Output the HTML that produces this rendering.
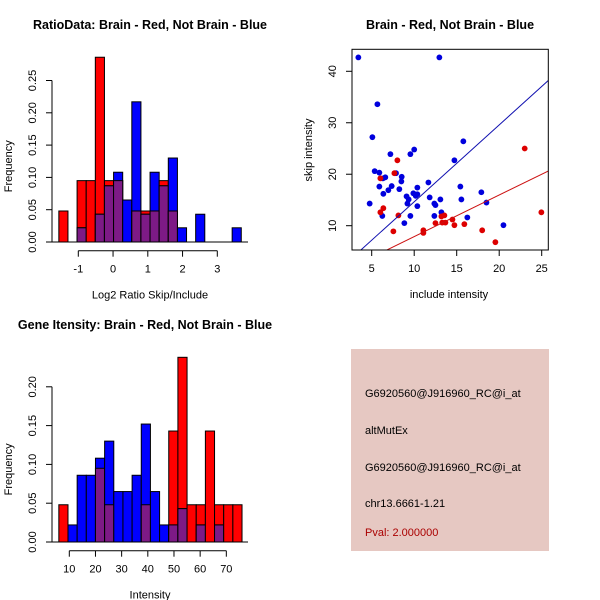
<!DOCTYPE html>
<html><head><meta charset="utf-8"><style>
html,body{margin:0;padding:0;background:#fff;}
svg{display:block;font-family:"Liberation Sans",sans-serif;}
</style></head><body>
<svg id="c" width="600" height="600" viewBox="0 0 600 600" xmlns="http://www.w3.org/2000/svg">
<rect x="351" y="349" width="198" height="202" fill="#e6c8c2"/>
<g font-size="11" fill="#000">
<text x="365" y="397">G6920560@J916960_RC@i_at</text>
<text x="365" y="434">altMutEx</text>
<text x="365" y="471">G6920560@J916960_RC@i_at</text>
<text x="365" y="507">chr13.6661-1.21</text>
<text x="365" y="536" fill="#aa0000">Pval: 2.000000</text>
</g>
</svg>
<script>
// Top-left histogram (Log2 ratio)
const ratioStart = -1.56, ratioWidth = 0.2625;
const ratioRed  = [0.048,0,0.095,0.095,0.286,0.095,0.095,0,0.048,0.048,0.048,0.095,0.048,0,0,0,0,0,0,0];
const ratioBlue = [0,0,0.022,0,0.043,0.087,0.108,0.065,0.217,0.043,0.108,0.087,0.130,0.022,0,0.043,0,0,0,0.022];
const ratioYTicks = ["0.00","0.05","0.10","0.15","0.20","0.25"];
const ratioXTicks = [-1,0,1,2,3];
// Bottom-left histogram (Intensity)
const intStart = 6, intWidth = 3.5;
const intRed  = [0.048,0,0,0,0.095,0.048,0,0,0,0.048,0,0,0.143,0.238,0.048,0.048,0.143,0.048,0.048,0.048];
const intBlue = [0,0.022,0.086,0.086,0.108,0.130,0.065,0.065,0.086,0.152,0.065,0.022,0.022,0.043,0,0.022,0,0.022,0,0];
const intYTicks = ["0.00","0.05","0.10","0.15","0.20"];
const intXTicks = [10,20,30,40,50,60,70];
// Scatter
const blueX = [3.43,12.96,5.67,5.08,5.35,5.9,4.76,5.9,6.37,6.25,6.33,6.6,6.96,7.2,7.35,7.86,8.25,8.53,8.49,8.84,9.1,9.2,9.35,9.55,9.55,10.0,9.9,10.18,10.37,10.37,10.37,11.67,11.82,12.37,12.5,12.37,13.08,13.2,14.73,15.78,15.43,15.55,16.25,17.9,18.5,20.5];
const blueY = [42.7,42.7,33.6,27.2,20.6,20.3,14.3,17.6,16.2,11.9,19.2,19.4,16.9,23.9,17.7,20.2,17.1,19.5,18.6,10.5,15.7,14.3,15.1,11.9,23.9,24.8,16.3,15.8,16.1,17.4,13.8,18.4,15.5,14.3,14.0,11.9,15.1,12.6,22.7,26.4,17.6,15.1,11.6,16.5,14.5,10.1];
const redX = [8.02,7.67,6.02,6.02,6.37,8.14,7.55,11.08,11.08,12.5,13.2,13.55,13.3,13.67,14.5,14.73,15.9,18.0,19.55,23.0,24.96];
const redY = [22.7,20.2,19.2,12.6,13.4,12.0,8.9,9.1,8.6,10.5,11.8,12.0,10.6,10.6,11.2,10.1,10.3,9.1,6.8,25.0,12.6];
const blueFit = [-0.28,1.493];
const redFit = [-0.2,0.808];
const scXTicks = [5,10,15,20,25];
const scYTicks = [10,20,30,40];

const svg = document.getElementById('c');
const NS = 'http://www.w3.org/2000/svg';
function mk(tag, attrs, parent){
  const e = document.createElementNS(NS, tag);
  for (const k in attrs) e.setAttribute(k, attrs[k]);
  (parent||svg).appendChild(e);
  return e;
}
function txt(x,y,s,size,extra,parent){
  const t = mk('text', Object.assign({x:x,y:y,'font-size':size}, extra||{}), parent);
  t.textContent = s;
  return t;
}

function hist(o){
  const g = mk('g', {});
  
  
  const xs = v => o.x0px + (v - o.x0) * o.xs;
  const ys = v => o.base - v / 0.05 * o.ys;
  const w = o.width * o.xs;
  for (let i=0;i<o.red.length;i++){
    const l = xs(o.start + i*o.width);
    const r = o.red[i], b = o.blue[i];
    if (r>0){ const e = mk('rect',{x:l,y:ys(r),width:w,height:ys(0)-ys(r),fill:'#ff0000',stroke:'#000','stroke-width':1},g);
        }
    if (b>0){ const e = mk('rect',{x:l,y:ys(b),width:w,height:ys(0)-ys(b),fill:'#0000ff',stroke:'#000','stroke-width':1},g);
        }
    const m = Math.min(r,b);
    if (m>0){ const e = mk('rect',{x:l,y:ys(m),width:w,height:ys(0)-ys(m),fill:'#7d1a86',stroke:'#000','stroke-width':1},g);
        }
  }
  mk('line',{x1:52,x2:248,y1:o.base,y2:o.base,stroke:'#000'},g);
  const ya = mk('g',{},g);
   
  const ymax = (o.yTicks.length-1);
  mk('line',{x1:o.yAxX,x2:o.yAxX,y1:ys(0),y2:ys(ymax*0.05),stroke:'#000'},ya);
  o.yTicks.forEach((t,i)=>{
    const y = ys(i*0.05);
    mk('line',{x1:o.yAxX,x2:o.yAxX-6,y1:y,y2:y,stroke:'#000'},ya);
    txt(o.yAxX-16,y,t,11,{transform:`rotate(-90 ${o.yAxX-16} ${y})`,'text-anchor':'middle'},ya);
  });
  const xa = mk('g',{},g);
   
  const xt = o.xTicks;
  mk('line',{x1:xs(xt[0]),x2:xs(xt[xt.length-1]),y1:o.xAxY,y2:o.xAxY,stroke:'#000'},xa);
  xt.forEach(t=>{
    mk('line',{x1:xs(t),x2:xs(t),y1:o.xAxY,y2:o.xAxY+6,stroke:'#000'},xa);
    txt(xs(t),o.xAxY+22,String(t),11,{'text-anchor':'middle'},xa);
  });
  const xl = txt(150,o.xAxY+48,o.xlab,11,{'text-anchor':'middle'},g);
   
  const cy = (ys(0)+ys(ymax*0.05))/2 + 5;
  const yl = txt(12,cy,'Frequency',11,{'text-anchor':'middle',transform:`rotate(-90 12 ${cy})`},g);
   
  const tt = txt(o.titleX,o.titleY,o.title,12.5,{'font-weight':'bold','text-anchor':'middle'},g);
   
}

hist({name:'ratio-histogram',start:ratioStart,width:ratioWidth,red:ratioRed,blue:ratioBlue,
  x0:-1,x0px:78.3,xs:34.75,base:242,ys:32.3,yAxX:52,xAxY:250.7,yTicks:ratioYTicks,xTicks:ratioXTicks,
  xlab:'Log2 Ratio Skip/Include',title:'RatioData: Brain - Red, Not Brain - Blue',titleX:150,titleY:29});
hist({name:'intensity-histogram',start:intStart,width:intWidth,red:intRed,blue:intBlue,
  x0:10,x0px:69.3,xs:2.617,base:542,ys:38.8,yAxX:52,xAxY:550.7,yTicks:intYTicks,xTicks:intXTicks,
  xlab:'Intensity',title:'Gene Itensity: Brain - Red, Not Brain - Blue',titleX:145,titleY:329});

(function(){
  const g = mk('g',{});
   
  const L=352,R=548.3,T=49.3,B=250;
  const xs = v => 371.7 + (v-5)*8.5;
  const ys = v => 225.7 - (v-10)*5.147;
  const cp = mk('clipPath',{id:'sc'},g);
  mk('rect',{x:L,y:T,width:R-L,height:B-T},cp);
  blueX.forEach((x,i)=>{ const c = mk('circle',{cx:xs(x),cy:ys(blueY[i]),r:2.9,fill:'#0000dd'},g);
      });
  redX.forEach((x,i)=>{ const c = mk('circle',{cx:xs(x),cy:ys(redY[i]),r:2.9,fill:'#dd0000'},g);
      });
  const lg = mk('g',{'clip-path':'url(#sc)'},g);
  const bl = mk('line',{x1:xs(0),y1:ys(blueFit[0]),x2:xs(30),y2:ys(blueFit[0]+blueFit[1]*30),stroke:'#1010b0','stroke-width':1},lg);
   
  const rl = mk('line',{x1:xs(0),y1:ys(redFit[0]),x2:xs(30),y2:ys(redFit[0]+redFit[1]*30),stroke:'#cc1010','stroke-width':1},lg);
   
  mk('rect',{x:L,y:T,width:R-L,height:B-T,fill:'none',stroke:'#000'},g);
  const xa = mk('g',{},g);
   
  scXTicks.forEach(t=>{ mk('line',{x1:xs(t),x2:xs(t),y1:B,y2:B+6,stroke:'#000'},xa);
    txt(xs(t),B+22,String(t),11,{'text-anchor':'middle'},xa); });
  const ya = mk('g',{},g);
   
  scYTicks.forEach(t=>{ const y=ys(t); mk('line',{x1:L,x2:L-6,y1:y,y2:y,stroke:'#000'},ya);
    txt(L-16,y,String(t),11,{'text-anchor':'middle',transform:`rotate(-90 ${L-16} ${y})`},ya); });
  const xl = txt(449,298,'include intensity',11,{'text-anchor':'middle'},g);
   
  const yl = txt(312,150,'skip intensity',11,{'text-anchor':'middle',transform:'rotate(-90 312 150)'},g);
   
  const tt = txt(450,29,'Brain - Red, Not Brain - Blue',12.5,{'font-weight':'bold','text-anchor':'middle'},g);
   
})();
</script>
</body></html>
